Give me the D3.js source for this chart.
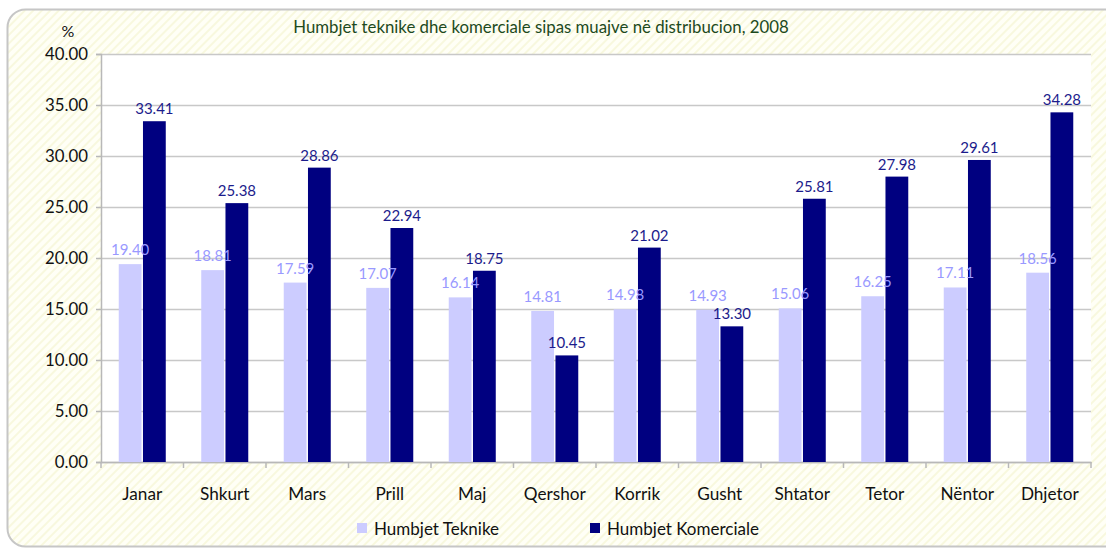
<!DOCTYPE html>
<html>
<head>
<meta charset="utf-8">
<script src="https://cdn.jsdelivr.net/npm/d3@7"></script>
<style>
  body { margin: 0; background: #fff; }
  svg { display: block; font-family: Lato, "Open Sans", sans-serif; }
</style>
</head>
<body>
<svg id="chart" width="1106" height="548"></svg>
<script>
const months = ["Janar", "Shkurt", "Mars", "Prill", "Maj", "Qershor", "Korrik", "Gusht", "Shtator", "Tetor", "Nëntor", "Dhjetor"];
const teknike = [19.40, 18.81, 17.59, 17.07, 16.14, 14.81, 14.98, 14.93, 15.06, 16.25, 17.11, 18.56];
const komerciale = [33.41, 25.38, 28.86, 22.94, 18.75, 10.45, 21.02, 13.30, 25.81, 27.98, 29.61, 34.28];
const yTicks = [0, 5, 10, 15, 20, 25, 30, 35, 40];
const seriesNames = ["Humbjet Teknike", "Humbjet Komerciale"];
const title = "Humbjet teknike dhe komerciale sipas muajve në distribucion, 2008";

let chart = d3.select("#chart"),
    margin = {top: 54, right: 15, bottom: 86, left: 101},
    width = +chart.attr("width") - margin.left - margin.right,
    height = +chart.attr("height") - margin.top - margin.bottom;

// striped background pattern
let defs = chart.append("defs");
let pat = defs.append("pattern")
    .attr("id", "stripes")
    .attr("patternUnits", "userSpaceOnUse")
    .attr("width", 6)
    .attr("height", 6)
    .attr("patternTransform", "rotate(45)");
pat.append("rect").attr("width", 6).attr("height", 6).attr("fill", "#fffff6");
pat.append("rect").attr("width", 2).attr("height", 6).attr("fill", "#f8f8de");

chart.append("rect")
    .attr("x", 7.5).attr("y", 9.5)
    .attr("width", 1120).attr("height", 537)
    .attr("rx", 18).attr("ry", 18)
    .attr("fill", "url(#stripes)")
    .attr("stroke", "#c6c6c6")
    .attr("stroke-width", 2);

let g = chart.append("g")
    .attr("transform", "translate(" + margin.left + "," + margin.top + ")");

g.append("rect")
    .attr("width", width).attr("height", height)
    .attr("fill", "#ffffff");

let x = d3.scaleBand().domain(months).range([0, width]);
let y = d3.scaleLinear().domain([0, 40]).range([height, 0]);

let groupW = x.bandwidth() * 0.57;
let x1 = d3.scaleBand().domain(seriesNames).range([0, groupW]).paddingInner(0.06);
let offset = (x.bandwidth() - groupW) / 2;

// grid
g.append("g")
    .call(d3.axisLeft(y).tickValues(yTicks).tickSize(-width).tickFormat(""))
    .call(a => a.select(".domain").remove())
    .selectAll("line").attr("stroke", "#c8c8c8").attr("stroke-width", 1.3);

// y axis
let yAx = g.append("g")
    .call(d3.axisLeft(y).tickValues(yTicks).tickSize(5).tickPadding(8).tickFormat(d3.format(".2f")));
yAx.select(".domain").attr("stroke", "#b8b8b8").attr("stroke-width", 1.5);
yAx.selectAll("line").attr("stroke", "#b8b8b8").attr("stroke-width", 1.5);
yAx.selectAll("text").attr("font-size", 16.8).attr("fill", "#111").attr("font-family", "Lato");

// x axis
let xAx = g.append("g")
    .attr("transform", "translate(0," + height + ")")
    .call(d3.axisBottom(x).tickSize(0).tickPadding(26));
xAx.select(".domain").attr("stroke", "#b8b8b8").attr("stroke-width", 1.5);
xAx.selectAll("text").attr("font-size", 17.2).attr("fill", "#111").attr("font-family", "Lato");
xAx.selectAll(".sep")
    .data(d3.range(months.length + 1))
    .enter().append("line")
    .attr("x1", i => i * x.step()).attr("x2", i => i * x.step())
    .attr("y1", 0).attr("y2", 6)
    .attr("stroke", "#b8b8b8").attr("stroke-width", 1.5);

const series = [
    {name: seriesNames[0], values: teknike, color: "#ccccff", label: "#9999ff", gap: 9},
    {name: seriesNames[1], values: komerciale, color: "#000080", label: "#1c1c8c", gap: 7}
];

series.forEach(function(s) {
    g.selectAll(null)
        .data(s.values)
        .enter().append("rect")
        .attr("x", (d, i) => x(months[i]) + offset + x1(s.name))
        .attr("y", d => y(d))
        .attr("width", x1.bandwidth())
        .attr("height", d => height - y(d))
        .attr("fill", s.color);
});

series.forEach(function(s) {
    g.selectAll(null)
        .data(s.values)
        .enter().append("text")
        .attr("x", (d, i) => x(months[i]) + offset + x1(s.name) + x1.bandwidth() / 2)
        .attr("y", d => y(d) - s.gap)
        .attr("text-anchor", "middle")
        .attr("font-size", 15)
        .attr("fill", s.label)
        .text(d => d3.format(".2f")(d));
});

// title and unit
chart.append("text")
    .attr("x", 541).attr("y", 33)
    .attr("text-anchor", "middle")
    .attr("font-size", 16.8)
    .attr("fill", "#1d4a1d")
    .text(title);

chart.append("text")
    .attr("x", 68).attr("y", 37)
    .attr("text-anchor", "middle")
    .attr("font-size", 16)
    .attr("fill", "#111")
    .text("%");

// legend
let legendX = [357, 590];
series.forEach(function(s, i) {
    let lg = chart.append("g").attr("transform", "translate(" + legendX[i] + ",523)");
    lg.append("rect").attr("width", 10).attr("height", 10).attr("fill", s.color);
    lg.append("text")
        .attr("x", 17).attr("y", 11.5)
        .attr("font-size", 17)
        .attr("fill", "#111")
        .text(s.name);
});
</script>
</body>
</html>
